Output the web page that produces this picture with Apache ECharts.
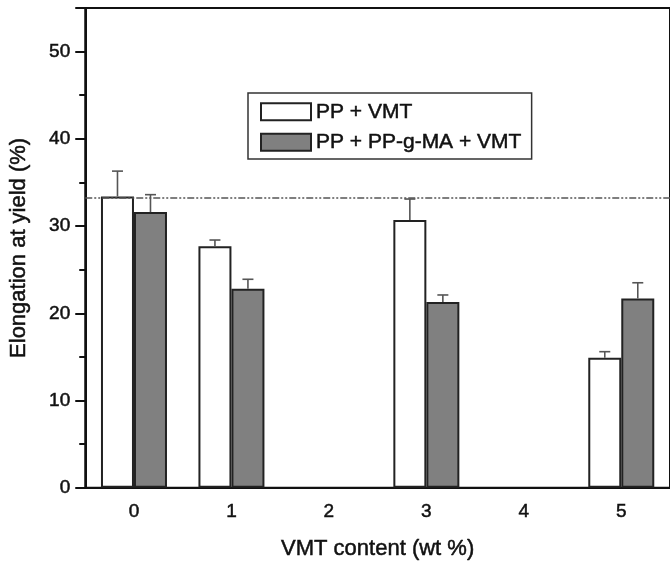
<!DOCTYPE html>
<html>
<head>
<meta charset="utf-8">
<script src="https://cdn.jsdelivr.net/npm/echarts@6/dist/echarts.min.js"></script>
<style>
  html, body { margin: 0; padding: 0; background: #fff; }
  #chart { width: 670px; height: 565px; }
</style>
</head>
<body>
<div id="chart"></div>
<script>
// VMT content (wt %)
const categories = ['0', '1', '2', '3', '4', '5']
// elongation at yield (%), '-' = no sample
const ppVmt = [33.4, 27.7, '-', 30.7, '-', 14.9]
const ppVmtErr = [2.9, 0.7, '-', 2.4, '-', 0.7]
const ppMaVmt = [31.6, 22.8, '-', 21.3, '-', 21.7]
const ppMaVmtErr = [2.0, 1.1, '-', 0.8, '-', 1.8]
const refLine = 33.3

const BAR_W = 33
const FONT = 'Liberation Sans'
// heavier strokes like the scanned figure
const txt = (size) => ({ fontFamily: FONT, fontSize: size, color: '#111', textBorderColor: '#111', textBorderWidth: 0.5 })

function errData (vals, errs) {
  const out = []
  vals.forEach((v, i) => {
    if (v !== '-') out.push([i, v, v + errs[i]])
  })
  return out
}

function errSeries (data, offset) {
  return {
    type: 'custom',
    silent: true,
    z: 5,
    data: data,
    renderItem: function (params, api) {
      const lo = api.coord([api.value(0), api.value(1)])
      const hi = api.coord([api.value(0), api.value(2)])
      const x = lo[0] + offset
      const cap = 5.5
      const st = { stroke: '#555', lineWidth: 1.6 }
      return {
        type: 'group',
        children: [
          { type: 'line', shape: { x1: x, y1: lo[1], x2: x, y2: hi[1] }, style: st },
          { type: 'line', shape: { x1: x - cap, y1: hi[1], x2: x + cap, y2: hi[1] }, style: st }
        ]
      }
    }
  }
}

const chart = echarts.init(document.getElementById('chart'))
chart.setOption({
  animation: false,
  textStyle: { fontFamily: FONT },
  grid: {
    left: 83.5, right: -5, top: 8, bottom: 77,
    show: true, borderColor: '#111', borderWidth: 2, backgroundColor: 'transparent'
  },
  legend: {
    orient: 'vertical',
    left: 248, top: 93,
    padding: [8, 10, 6, 12],
    itemGap: 9,
    itemWidth: 50,
    itemHeight: 17,
    icon: 'rect',
    borderColor: '#333',
    borderWidth: 1.5,
    textStyle: txt(21),
    data: ['PP + VMT', 'PP + PP-g-MA + VMT']
  },
  xAxis: {
    type: 'category',
    data: categories,
    name: 'VMT content (wt %)',
    nameLocation: 'middle',
    nameGap: 50,
    nameTextStyle: txt(22),
    axisLine: { lineStyle: { color: '#111', width: 2 } },
    axisTick: { alignWithLabel: true, length: 10, lineStyle: { color: '#111', width: 2 } },
    axisLabel: Object.assign({ margin: 15 }, txt(19)),
    splitLine: { show: false }
  },
  yAxis: {
    type: 'value',
    min: 0, max: 55, interval: 10,
    name: 'Elongation at yield (%)',
    nameLocation: 'middle',
    nameGap: 55,
    nameTextStyle: txt(22),
    axisLine: { show: true, lineStyle: { color: '#111', width: 2 } },
    axisTick: { show: true, length: 10, lineStyle: { color: '#111', width: 2 } },
    minorTick: { show: true, splitNumber: 2, length: 6, lineStyle: { color: '#111', width: 2 } },
    axisLabel: Object.assign({ margin: 15,
      formatter: v => (v % 10 === 0 && v <= 50) ? v : '' }, txt(19)),
    splitLine: { show: false }
  },
  series: [
    {
      name: 'PP + VMT',
      type: 'bar',
      data: ppVmt,
      barWidth: BAR_W,
      barGap: '0%',
      itemStyle: { color: '#fff', borderColor: '#222', borderWidth: 2 },
      markLine: {
        silent: true,
        symbol: 'none',
        label: { show: false },
        lineStyle: { color: '#555', width: 1.5, type: [7, 2, 2, 2, 2, 2] },
        data: [{ yAxis: refLine }]
      }
    },
    {
      name: 'PP + PP-g-MA + VMT',
      type: 'bar',
      data: ppMaVmt,
      barWidth: BAR_W,
      barGap: '0%',
      itemStyle: { color: '#808080', borderColor: '#222', borderWidth: 2 }
    },
    errSeries(errData(ppVmt, ppVmtErr), -BAR_W / 2),
    errSeries(errData(ppMaVmt, ppMaVmtErr), BAR_W / 2)
  ]
})
</script>
</body>
</html>
